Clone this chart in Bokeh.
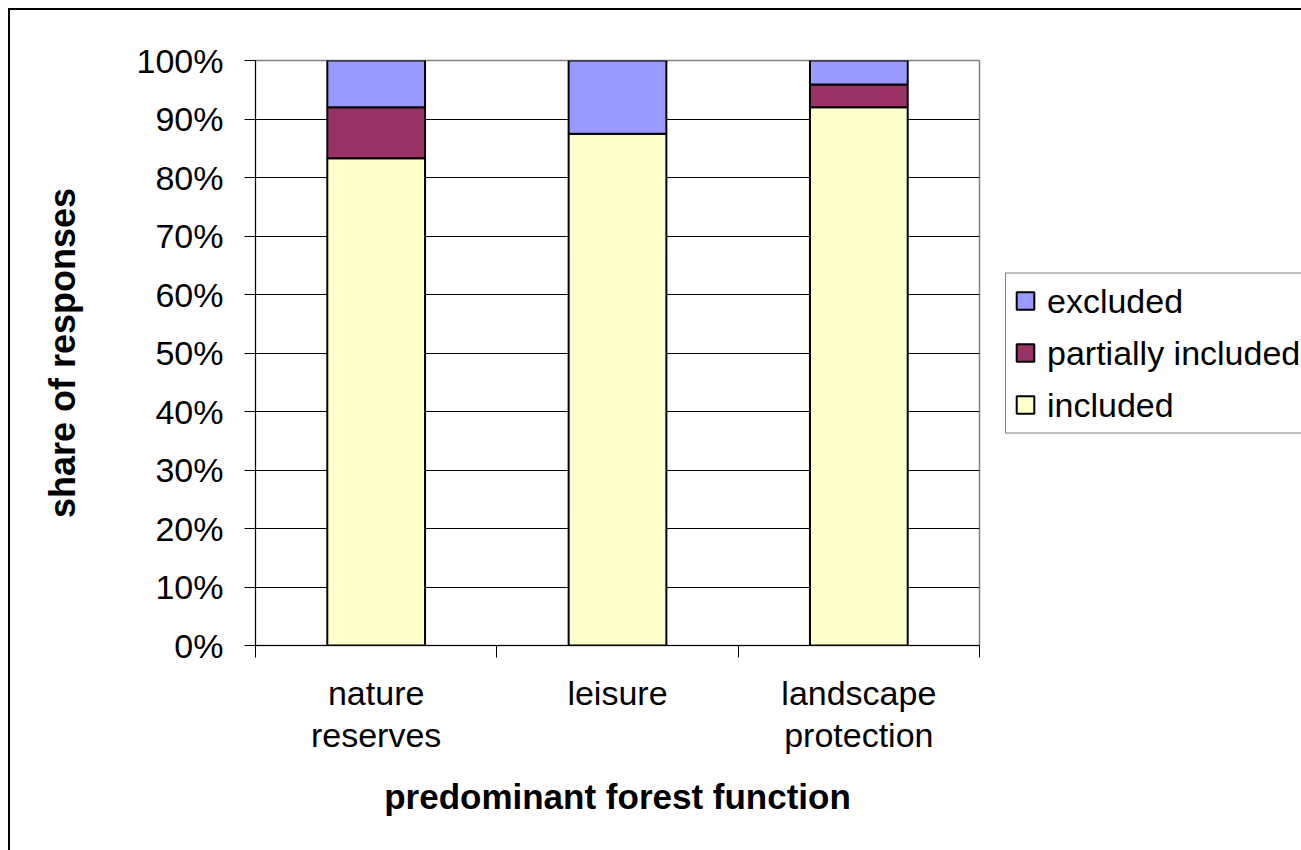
from bokeh.plotting import figure
from bokeh.models import FixedTicker, NumeralTickFormatter, Legend, LegendItem, ColumnDataSource
from bokeh.embed import file_html
from bokeh.resources import INLINE

categories = ["nature\nreserves", "leisure", "landscape\nprotection"]
included = [0.833, 0.875, 0.920]
partially_included = [0.087, 0.0, 0.039]
excluded = [0.080, 0.125, 0.041]
y_ticks = [0.0, 0.1, 0.2, 0.3, 0.4, 0.5, 0.6, 0.7, 0.8, 0.9, 1.0]

xpos = [i + 0.5 for i in range(len(categories))]
src = ColumnDataSource(dict(x=xpos, included=included, partial=partially_included, excluded=excluded))

FONT = "Liberation Sans"

p = figure(width=None, height=None, frame_width=724, frame_height=585,
           x_range=(0, 3), y_range=(0, 1),
           output_backend="svg", toolbar_location=None,
           min_border_left=245, min_border_right=0, min_border_top=50, min_border_bottom=205)
p.styles = {"border-top": "2px solid black", "border-left": "2px solid black",
            "margin-top": "8px", "margin-left": "8px"}
p.background_fill_color = "white"
p.border_fill_color = "white"
p.outline_line_color = "#808080"
p.outline_line_width = 1.5

rs = p.vbar_stack(["included", "partial", "excluded"], x="x", width=0.405, source=src,
                  fill_color=["#FFFFCC", "#993366", "#9999FF"], line_color="black", line_width=2)

# axes
p.yaxis.ticker = FixedTicker(ticks=y_ticks)
p.yaxis.formatter = NumeralTickFormatter(format="0%")
p.yaxis.major_tick_out = 11
p.yaxis.major_tick_in = 0
p.yaxis.minor_tick_out = 0
p.yaxis.minor_tick_in = 0
p.yaxis.major_label_standoff = 21
p.yaxis.major_label_text_font = FONT
p.yaxis.major_label_text_font_size = "34px"
p.yaxis.major_label_text_color = "black"
p.yaxis.axis_line_color = "black"
p.yaxis.axis_line_width = 1
p.yaxis.major_tick_line_color = "black"
p.yaxis.axis_label = "share of responses"
p.yaxis.axis_label_text_font = FONT
p.yaxis.axis_label_text_font_size = "36px"
p.yaxis.axis_label_text_font_style = "bold"
p.yaxis.axis_label_text_color = "black"
p.yaxis.axis_label_standoff = 51

p.xaxis.ticker = FixedTicker(ticks=xpos, minor_ticks=[0, 1, 2, 3])
p.xaxis.major_label_overrides = {xpos[i]: categories[i] for i in range(len(categories))}
p.xaxis.major_tick_out = 0
p.xaxis.major_tick_in = 0
p.xaxis.minor_tick_out = 12
p.xaxis.minor_tick_in = 0
p.xaxis.minor_tick_line_color = "black"
p.xaxis.axis_line_color = "black"
p.xaxis.major_label_standoff = 16
p.xaxis.major_label_text_font = FONT
p.xaxis.major_label_text_font_size = "34px"
p.xaxis.major_label_text_line_height = 1.12
p.xaxis.major_label_text_color = "black"
p.xaxis.axis_label = "predominant forest function"
p.xaxis.axis_label_text_font = FONT
p.xaxis.axis_label_text_font_size = "35px"
p.xaxis.axis_label_text_font_style = "bold"
p.xaxis.axis_label_text_color = "black"
p.xaxis.axis_label_standoff = 20

p.xgrid.visible = False
p.ygrid.ticker = FixedTicker(ticks=y_ticks)
p.ygrid.grid_line_color = "black"
p.ygrid.grid_line_width = 1

legend = Legend(items=[LegendItem(label="excluded", renderers=[rs[2]]),
                       LegendItem(label="partially included", renderers=[rs[1]]),
                       LegendItem(label="included", renderers=[rs[0]])],
                location="center_left")
legend.border_line_color = "black"
legend.border_line_width = 1
legend.background_fill_alpha = 1
legend.label_text_font = FONT
legend.label_text_font_size = "34px"
legend.label_text_color = "black"
legend.glyph_width = 22
legend.glyph_height = 22
legend.label_standoff = 11
legend.label_width = 257
legend.spacing = 13
legend.padding = 8
legend.margin = 26
p.add_layout(legend, "right")

open("out.html", "w").write(file_html(p, INLINE))
